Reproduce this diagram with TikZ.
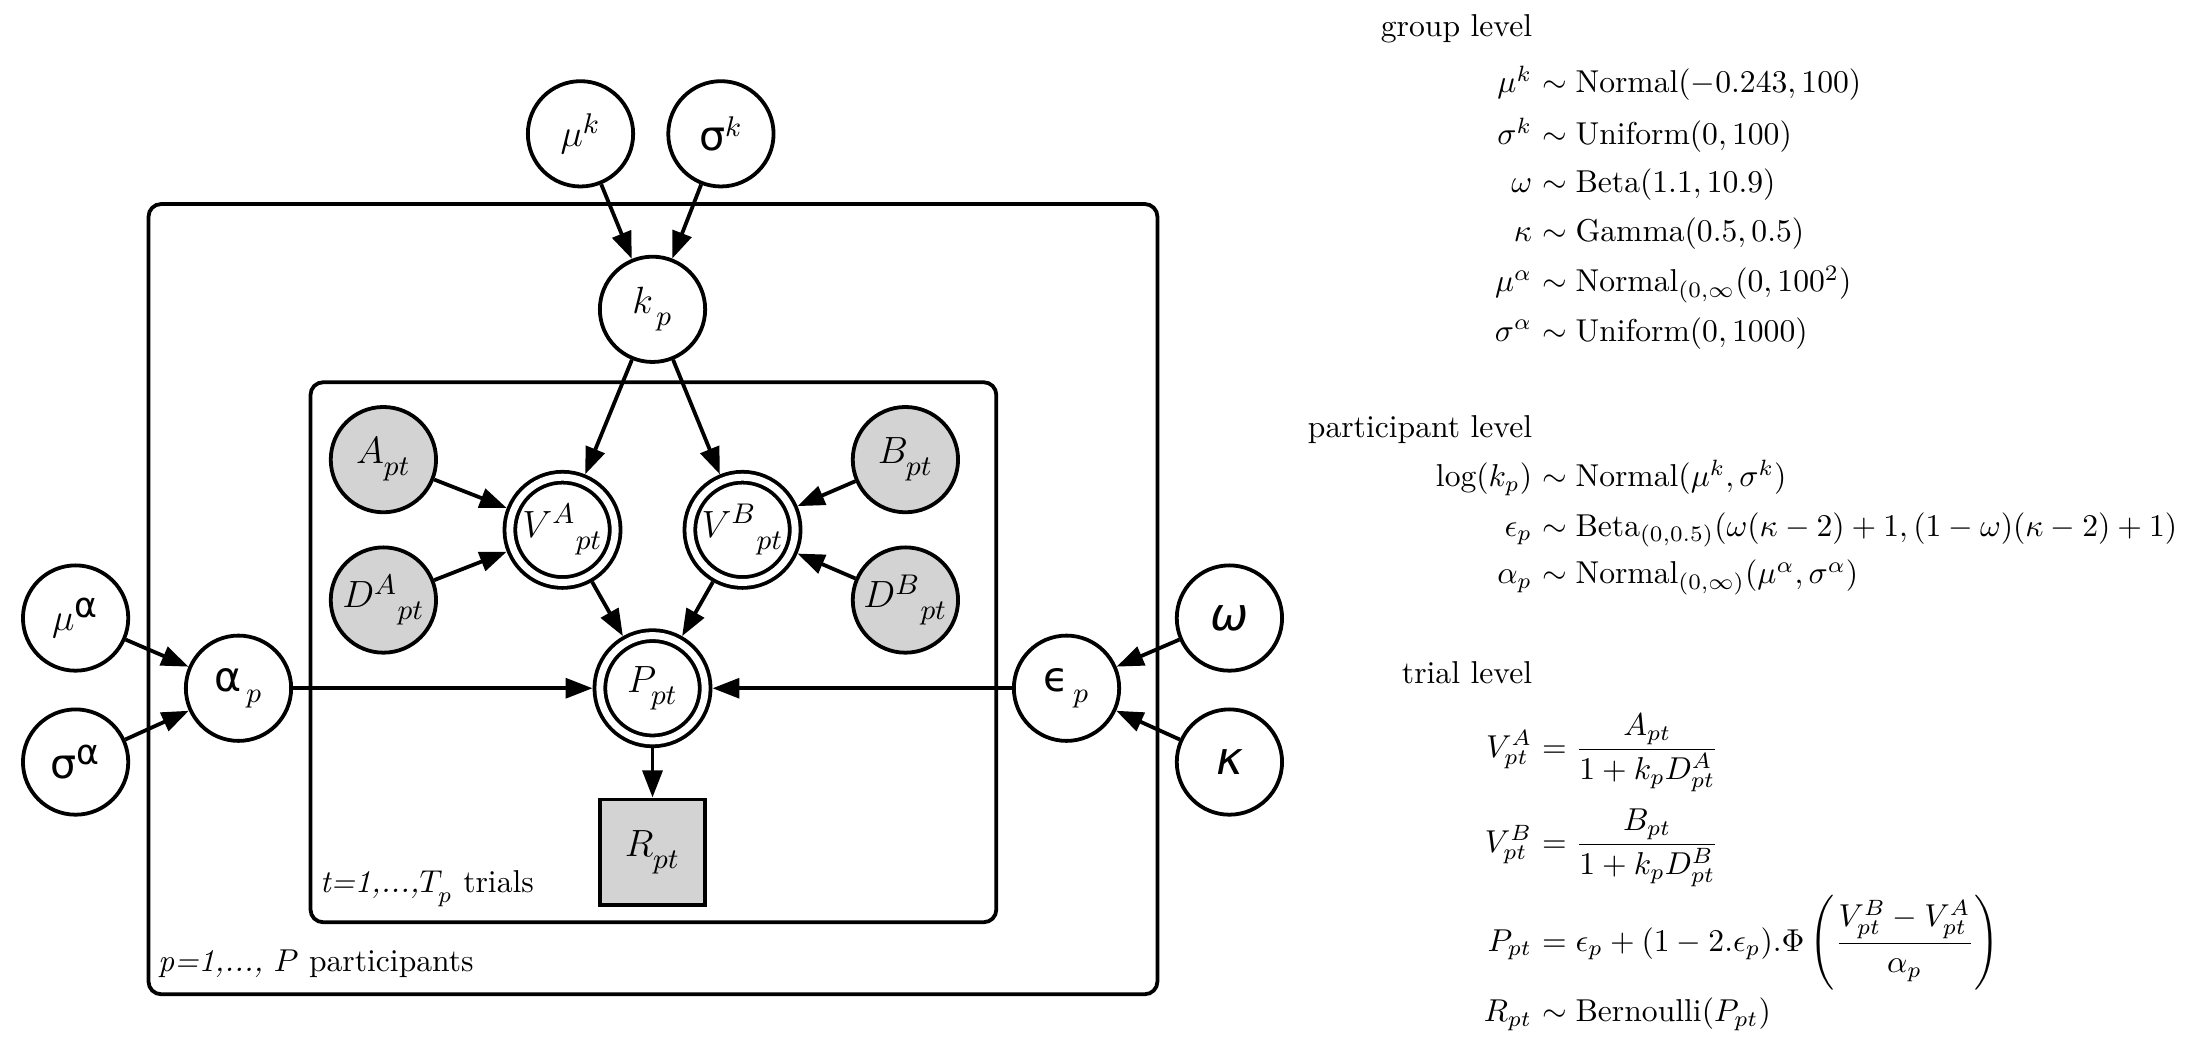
\documentclass[tikz,border=0pt]{standalone}
\usepackage{amsmath,amssymb}
\usepackage{fontspec}
\newfontfamily\grk{DejaVu Sans}
\usepackage{tikz}
\usetikzlibrary{arrows.meta,positioning,shapes}
\definecolor{ink}{HTML}{000000}
\definecolor{obsgray}{HTML}{D3D3D3}
\newcommand{\nsub}[1]{_{\raisebox{-0.35ex}{$\scriptstyle #1$}}}
\newcommand{\bigalpha}{\text{\fontsize{11}{13}\selectfont\grk α}}
\tikzset{
  latent/.style={draw=ink,fill=white,circle,line width=1.2pt,
                 minimum size=1.17cm,inner sep=0pt,font=\fontsize{13}{15}\selectfont},
  observed/.style={latent,fill=obsgray},
  derived/.style={latent,double,double distance=2.2pt,outer sep=2.3pt},
  obsbox/.style={draw=ink,fill=obsgray,line width=1.2pt,
                 minimum size=1.17cm,inner sep=0pt,font=\fontsize{13}{15}\selectfont},
  plate/.style={draw=ink,line width=1.2pt,rounded corners=4pt},
  edge/.style={-{Triangle[length=3mm,width=2.2mm]},line width=1.2pt},
  platelabel/.style={anchor=base west,inner sep=0pt},
  lhs/.style={anchor=base east,inner sep=0pt},
  rhs/.style={anchor=base west,inner sep=0pt}
}

\begin{document}
\begin{tikzpicture}
  \useasboundingbox (0,0) rectangle (24.444,11.667);
  % plates
  \draw[plate] (1.65,0.62) rectangle (12.86,9.40);
  \draw[plate] (3.45,1.42) rectangle (11.07,7.42);
  \node[platelabel] (trials) at (3.55,1.75) {\textit{t=1,...,}$T\nsub{p}$ trials};
  \node[platelabel] (parts) at (1.75,0.87) {\textit{p=1,...,} $P$ participants};
  % nodes
  \node[latent] (muk) at (6.45,10.18) {$\mu^{k}$};
  \node[latent] (sigk) at (8.01,10.18) {$\text{\grk σ}^{k}$};
  \node[latent] (kp) at (7.25,8.23) {$k\nsub{\,p}$};
  \node[observed] (Apt) at (4.26,6.56) {$A\nsub{pt}$};
  \node[observed] (DApt) at (4.26,5.00) {$D^{A}{}\nsub{pt}$};
  \node[derived] (VApt) at (6.25,5.78) {$V^{A}{}\nsub{pt}$};
  \node[derived] (VBpt) at (8.25,5.78) {$V^{B}{}\nsub{pt}$};
  \node[observed] (Bpt) at (10.06,6.56) {$B\nsub{pt}$};
  \node[observed] (DBpt) at (10.06,5.00) {$D^{B}{}\nsub{pt}$};
  \node[derived] (Ppt) at (7.25,4.02) {$P\nsub{pt}$};
  \node[obsbox] (Rpt) at (7.25,2.20) {$R\nsub{pt}$};
  \node[latent] (alphap) at (2.65,4.02) {$\text{\grk α}\nsub{\,p}$};
  \node[latent] (mualpha) at (0.84,4.80) {$\mu^{\bigalpha}$};
  \node[latent] (sigalpha) at (0.84,3.20) {$\text{\grk σ}^{\bigalpha}$};
  \node[latent] (epsp) at (11.85,4.02) {$\text{\grk ϵ}\nsub{\,p}$};
  \node[latent] (omega) at (13.66,4.80) {\Large\grk\itshape ω};
  \node[latent] (kappa) at (13.66,3.20) {\Large\grk\itshape κ};
  % edges
  \foreach \src/\dst in {muk/kp,sigk/kp,kp/VApt,kp/VBpt,Apt/VApt,DApt/VApt,
      Bpt/VBpt,DBpt/VBpt,VApt/Ppt,VBpt/Ppt,alphap/Ppt,epsp/Ppt,Ppt/Rpt,
      mualpha/alphap,sigalpha/alphap,omega/epsp,kappa/epsp}
    \draw[edge] (\src) -- (\dst);
  % model equations
  \node[lhs] (grphead) at (17.03,11.26) {group level};
  \foreach \lhs/\rhs/\y [count=\i] in {
      {\mu^k}/{\sim\mathrm{Normal}(-0.243,100)}/10.637,
      {\sigma^k}/{\sim\mathrm{Uniform}(0,100)}/10.060,
      {\omega}/{\sim\mathrm{Beta}(1.1,10.9)}/9.530,
      {\kappa}/{\sim\mathrm{Gamma}(0.5,0.5)}/8.984,
      {\mu^\alpha}/{\sim\mathrm{Normal}_{(0,\infty}(0,100^2)}/8.423,
      {\sigma^\alpha}/{\sim\mathrm{Uniform}(0,1000)}/7.878} {
    \node[lhs] (grp-\i-l) at (17.03,\y) {$\lhs$};
    \node[rhs] (grp-\i-r) at (17.03,\y) {${}\rhs$};
  }
  \node[lhs] (parthead) at (17.03,6.81) {participant level};
  \foreach \lhs/\rhs/\y [count=\i] in {
      {\log(k_p)}/{\sim\mathrm{Normal}(\mu^k,\sigma^k)}/6.256,
      {\epsilon_p}/{\sim\mathrm{Beta}_{(0,0.5)}(\omega(\kappa-2)+1,(1-\omega)(\kappa-2)+1)}/5.711,
      {\alpha_p}/{\sim\mathrm{Normal}_{(0,\infty)}(\mu^\alpha,\sigma^\alpha)}/5.181} {
    \node[lhs] (part-\i-l) at (17.03,\y) {$\lhs$};
    \node[rhs] (part-\i-r) at (17.03,\y) {${}\rhs$};
  }
  \node[lhs] (trialhead) at (17.03,4.07) {trial level};
  \foreach \lhs/\rhs/\y [count=\i] in {
      {V^A_{pt}}/{=\dfrac{A_{pt}}{1+k_pD^A_{pt}}}/3.255,
      {V^B_{pt}}/{=\dfrac{B_{pt}}{1+k_pD^B_{pt}}}/2.20,
      {P_{pt}}/{=\epsilon_p+(1-2.\epsilon_p).\Phi\left(\dfrac{V^B_{pt}-V^A_{pt}}{\alpha_p}\right)}/1.10,
      {R_{pt}}/{\sim\mathrm{Bernoulli}(P_{pt})}/0.316} {
    \node[lhs] (trial-\i-l) at (17.03,\y) {$\lhs$};
    \node[rhs] (trial-\i-r) at (17.03,\y) {${}\rhs$};
  }
\end{tikzpicture}
\end{document}
